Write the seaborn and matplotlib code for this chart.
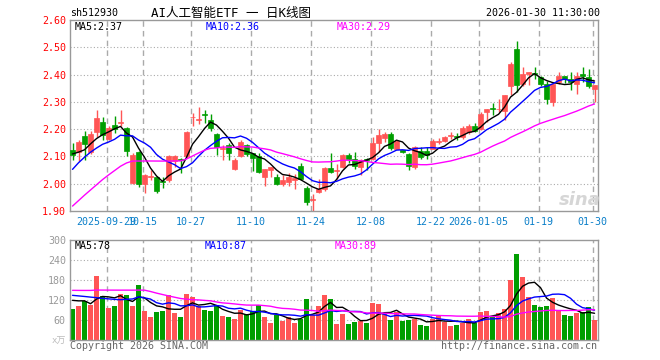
import numpy as np
import pandas as pd
import matplotlib
matplotlib.use('Agg')
import matplotlib.pyplot as plt
import seaborn as sns

code = 'sh512930'
title = 'AI人工智能ETF 一 日K线图'
stamp = '2026-01-30 11:30:00'

tick_idx = [6, 12, 20, 30, 40, 50, 60, 68, 78, 87]
tick_labels = ['2025-09-29', '10-15', '10-27', '11-10', '11-24', '12-08',
               '12-22', '2026-01-05', '01-19', '01-30']

opens = [2.122, 2.115, 2.176, 2.115, 2.189, 2.227, 2.164, 2.216, 2.224, 2.205,
         2.002, 2.117, 1.999, 2.026, 2.026, 2.010, 2.015, 2.084, 2.091, 2.100,
         2.243, 2.234, 2.256, 2.232, 2.184, 2.128, 2.141, 2.053, 2.102, 2.141,
         2.114, 2.102, 2.025, 2.051, 2.026, 1.998, 2.007, 2.014, 2.065, 1.983,
         1.941, 1.970, 1.980, 2.059, 2.045, 2.063, 2.105, 2.092, 2.063, 2.090,
         2.090, 2.149, 2.167, 2.182, 2.129, 2.122, 2.110, 2.060, 2.121, 2.121,
         2.129, 2.154, 2.157, 2.176, 2.175, 2.170, 2.188, 2.212, 2.200, 2.261,
         2.278, 2.272, 2.267, 2.359, 2.494, 2.365, 2.401, 2.407, 2.390, 2.367,
         2.300, 2.374, 2.393, 2.384, 2.365, 2.402, 2.390, 2.347]
closes = [2.106, 2.152, 2.144, 2.183, 2.242, 2.177, 2.203, 2.200, 2.228, 2.120,
          2.105, 1.999, 2.033, 2.030, 1.975, 2.006, 2.100, 2.102, 2.086, 2.190,
          2.246, 2.238, 2.252, 2.203, 2.135, 2.132, 2.112, 2.087, 2.153, 2.108,
          2.096, 2.043, 2.053, 2.062, 1.998, 2.013, 2.026, 2.022, 2.016, 1.933,
          1.945, 1.982, 2.057, 2.043, 2.049, 2.105, 2.090, 2.065, 2.086, 2.087,
          2.151, 2.178, 2.182, 2.130, 2.157, 2.118, 2.066, 2.133, 2.098, 2.104,
          2.157, 2.157, 2.173, 2.179, 2.172, 2.203, 2.212, 2.194, 2.255, 2.274,
          2.274, 2.275, 2.325, 2.439, 2.362, 2.402, 2.411, 2.403, 2.365, 2.310,
          2.365, 2.393, 2.384, 2.374, 2.396, 2.393, 2.357, 2.362]
highs = [2.150, 2.159, 2.195, 2.195, 2.269, 2.245, 2.212, 2.248, 2.270, 2.207,
         2.114, 2.120, 2.035, 2.050, 2.030, 2.026, 2.105, 2.105, 2.094, 2.195,
         2.260, 2.280, 2.270, 2.256, 2.185, 2.142, 2.151, 2.095, 2.160, 2.145,
         2.114, 2.112, 2.053, 2.062, 2.035, 2.031, 2.040, 2.035, 2.075, 1.992,
         1.961, 2.016, 2.063, 2.114, 2.072, 2.109, 2.112, 2.115, 2.092, 2.094,
         2.173, 2.200, 2.188, 2.188, 2.161, 2.125, 2.112, 2.137, 2.135, 2.135,
         2.164, 2.166, 2.175, 2.190, 2.186, 2.210, 2.218, 2.221, 2.261, 2.274,
         2.296, 2.310, 2.325, 2.445, 2.524, 2.426, 2.411, 2.426, 2.396, 2.377,
         2.371, 2.408, 2.396, 2.408, 2.408, 2.426, 2.420, 2.362]
lows = [2.088, 2.085, 2.087, 2.109, 2.171, 2.159, 2.160, 2.187, 2.210, 2.100,
        2.000, 1.987, 1.967, 2.014, 1.966, 1.983, 2.005, 2.060, 2.040, 2.095,
        2.210, 2.218, 2.222, 2.192, 2.107, 2.087, 2.087, 2.049, 2.098, 2.102,
        2.047, 2.038, 1.992, 2.026, 1.995, 1.992, 1.990, 1.980, 2.013, 1.921,
        1.900, 1.965, 1.974, 2.040, 2.017, 2.059, 2.075, 2.055, 2.031, 2.050,
        2.088, 2.117, 2.153, 2.124, 2.127, 2.113, 2.049, 2.055, 2.092, 2.092,
        2.126, 2.146, 2.153, 2.163, 2.160, 2.164, 2.182, 2.188, 2.197, 2.227,
        2.252, 2.262, 2.234, 2.325, 2.337, 2.359, 2.362, 2.383, 2.359, 2.292,
        2.283, 2.365, 2.370, 2.343, 2.330, 2.374, 2.350, 2.300]
volume = [94, 103, 118, 106, 193, 133, 97, 103, 139, 136,
          103, 166, 88, 70, 85, 88, 136, 82, 70, 139,
          130, 103, 91, 88, 106, 73, 70, 64, 91, 79,
          88, 106, 70, 52, 76, 58, 70, 52, 64, 124,
          76, 103, 136, 124, 49, 79, 49, 55, 58, 52,
          112, 109, 79, 61, 85, 58, 61, 64, 46, 43,
          64, 76, 55, 43, 46, 52, 64, 52, 85, 88,
          73, 82, 94, 181, 259, 190, 130, 106, 100, 103,
          127, 88, 76, 73, 82, 85, 100, 61]

# closes / volumes of the 29 sessions before the window (estimated, for MA warm-up)
prior_close = [1.552, 1.544, 1.613, 1.672, 1.607, 1.693, 1.720, 1.748, 1.760, 1.895,
               1.995, 2.030, 2.030, 1.980, 2.010, 2.090, 2.100, 2.080, 1.980, 1.916,
               1.910, 1.940, 2.000, 2.090, 2.040, 2.120, 2.100, 2.075, 2.145]
prior_vol = [110, 120, 105, 160, 135, 100, 105, 140, 135, 105, 160, 95,
             190, 230, 215, 260, 200, 185, 200, 180,
             120, 135, 125, 210, 155, 111, 117, 150, 123]

price_legend = ['MA5:2.37', 'MA10:2.36', 'MA30:2.29']
vol_legend = ['MA5:78', 'MA10:87', 'MA30:89']

sns.set_theme(style='white')
plt.rcParams['font.family'] = ['DejaVu Sans Mono', 'Noto Sans CJK SC']

RED = '#ff5555'
GREEN = '#009e00'
GRID = '#aaaaaa'
MA_COLORS = ['black', '#0000ff', '#ff00ff']

n = len(closes)
x = np.arange(n)
o = np.array(opens)
c = np.array(closes)
cols = [RED if c[i] >= o[i] else GREEN for i in range(n)]

cs = pd.Series(prior_close + closes)
vs = pd.Series(prior_vol + volume)
pm = [cs.rolling(w).mean().iloc[len(prior_close):].values for w in (5, 10, 30)]
vm = [vs.rolling(w).mean().iloc[len(prior_vol):].values for w in (5, 10, 30)]

W, H = 660, 360
fig = plt.figure(figsize=(6.6, 3.6), dpi=100)
ax = fig.add_axes([70 / W, 1 - 211 / H, 528 / W, 191 / H])
axv = fig.add_axes([70 / W, 1 - 340 / H, 528 / W, 100 / H])

xmin = -0.42
for a in (ax, axv):
    a.set_xlim(xmin, xmin + 88)
    for s in a.spines.values():
        s.set_color('#999999')
        s.set_linewidth(1)
    for t in tick_idx:
        a.axvline(t - 0.3, color=GRID, lw=1, ls=(0, (4, 3)), zorder=0)

# price panel
ax.set_ylim(1.90, 2.60)
for lv in [2.0, 2.1, 2.2, 2.3, 2.4, 2.5]:
    ax.axhline(lv, color=GRID, lw=0.8, ls=(0, (1, 2)), zorder=0)
ax.vlines(x, lows, highs, colors=cols, lw=1, zorder=2)
body = np.maximum(np.abs(c - o), 0.003)
ax.bar(x, body, bottom=np.minimum(o, c), width=0.8, color=cols,
       edgecolor=cols, linewidth=0.5, zorder=3)
for m, col in zip(pm, MA_COLORS):
    sns.lineplot(x=x, y=m, ax=ax, color=col, lw=1, legend=False, zorder=4)
ax.set_yticks([1.9, 2.0, 2.1, 2.2, 2.3, 2.4, 2.5, 2.6],
              ['%.2f' % v for v in [1.9, 2.0, 2.1, 2.2, 2.3, 2.4, 2.5, 2.6]])
ax.set_xticks(np.array(tick_idx) - 0.3, tick_labels)
ax.tick_params(axis='y', length=0, pad=3, labelcolor='red', labelsize=7.2)
ax.tick_params(axis='x', length=0, pad=4, labelcolor='#0a7fc9', labelsize=7.2)
ax.set_xlabel('')
ax.set_ylabel('')

# volume panel
axv.set_ylim(0, 300)
for lv in [60, 120, 180, 240]:
    axv.axhline(lv, color=GRID, lw=0.8, ls=(0, (1, 2)), zorder=0)
axv.bar(x, volume, width=0.8, color=cols, linewidth=0, zorder=2)
for m, col in zip(vm, MA_COLORS):
    sns.lineplot(x=x, y=m, ax=axv, color=col, lw=1, legend=False, zorder=4)
axv.set_yticks([60, 120, 180, 240, 300], ['60', '120', '180', '240', '300'])
axv.set_xticks([])
axv.tick_params(axis='y', length=0, pad=3, labelcolor='#999999', labelsize=7.2)
axv.set_xlabel('')
axv.set_ylabel('')

def px(xp, yp, s, **kw):
    fig.text(xp / W, 1 - yp / H, s, va='center', **kw)

px(70, 13, code, size=7.2, color='black')
px(151, 13, title, size=9, color='black')
px(600, 13, stamp, size=7.2, color='black', ha='right')
for s, xp, col in zip(price_legend, [75, 206, 337], MA_COLORS):
    px(xp, 26.5, s, size=7.2, color=col)
for s, xp, col in zip(vol_legend, [75, 205, 335], MA_COLORS):
    px(xp, 246, s, size=7.2, color=col)
px(66, 341, 'x万', size=6.5, color='#bbbbbb', ha='right')
px(70, 346, 'Copyright 2026 SINA.COM', size=7.2, color='#666666')
px(597, 346, 'http://finance.sina.com.cn', size=7.2, color='#666666', ha='right')
px(580, 200, 'sina', size=13, color='#d6d6d6', ha='center',
   fontstyle='italic', fontweight='bold', family='DejaVu Sans')

fig.savefig('out.png', dpi=100)
